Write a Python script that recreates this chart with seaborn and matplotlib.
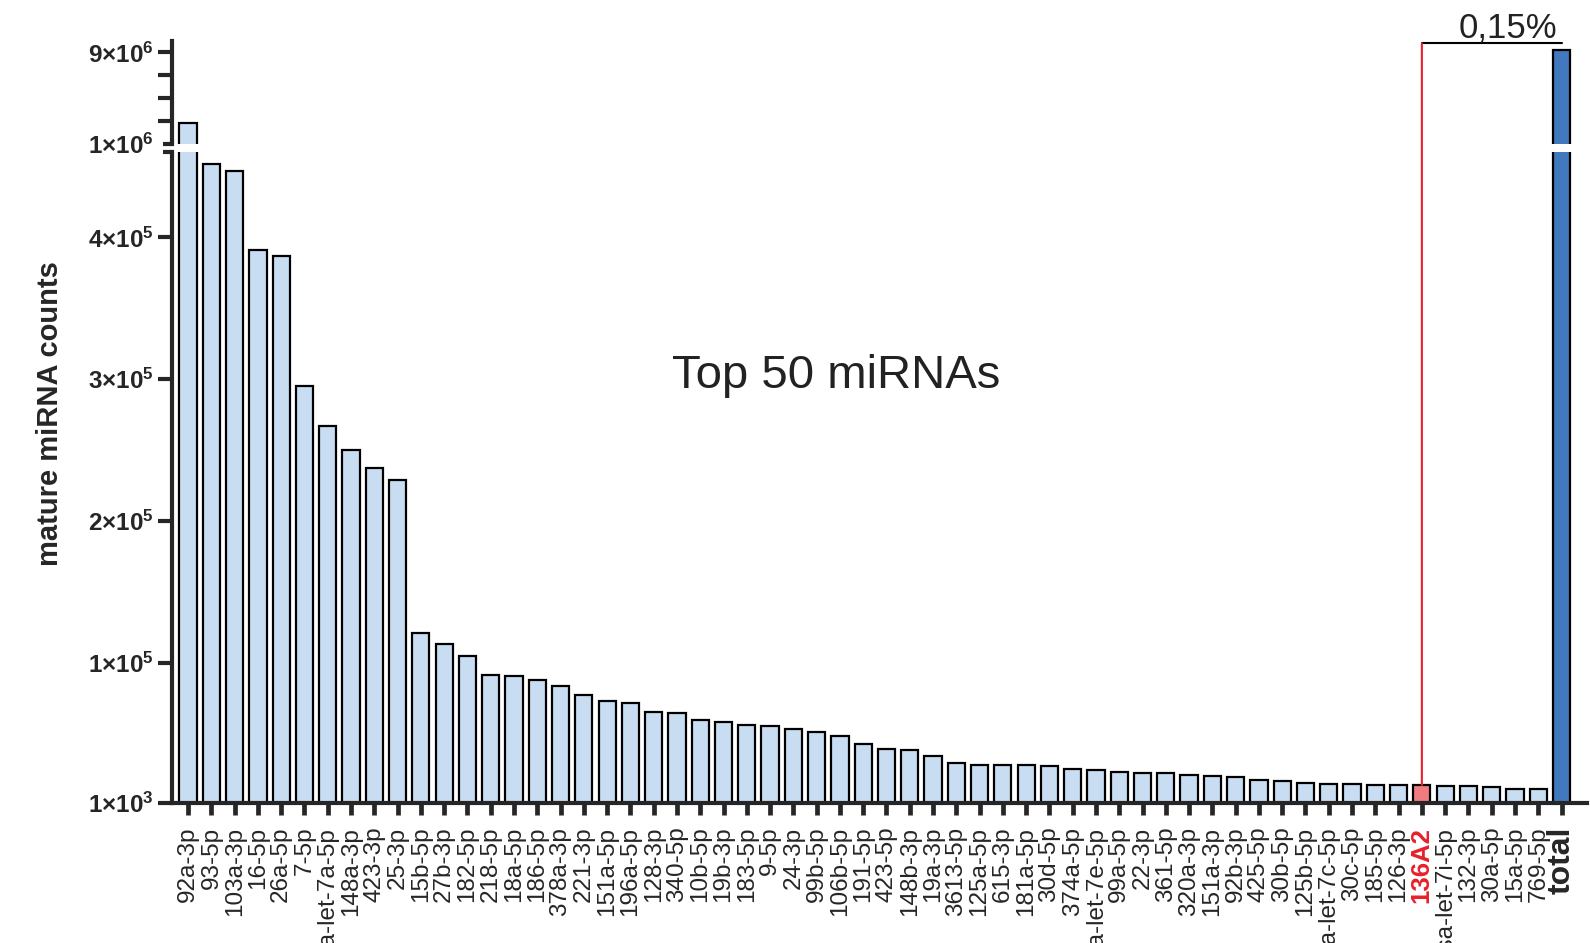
import numpy as np
import pandas as pd
import seaborn as sns
import matplotlib.pyplot as plt
from matplotlib.patches import ConnectionPatch
from matplotlib.ticker import FixedLocator, FixedFormatter

MIRNAS = [
    "92a-3p", "93-5p", "103a-3p", "16-5p", "26a-5p", "7-5p", "hsa-let-7a-5p",
    "148a-3p", "423-3p", "25-3p", "15b-5p", "27b-3p", "182-5p", "218-5p",
    "18a-5p", "186-5p", "378a-3p", "221-3p", "151a-5p", "196a-5p", "128-3p",
    "340-5p", "10b-5p", "19b-3p", "183-5p", "9-5p", "24-3p", "99b-5p",
    "106b-5p", "191-5p", "423-5p", "148b-3p", "19a-3p", "3613-5p", "125a-5p",
    "615-3p", "181a-5p", "30d-5p", "374a-5p", "hsa-let-7e-5p", "99a-5p",
    "22-3p", "361-5p", "320a-3p", "151a-3p", "92b-3p", "425-5p", "30b-5p",
    "125b-5p", "hsa-let-7c-5p", "30c-5p", "185-5p", "126-3p", "136A2",
    "hsa-let-7i-5p", "132-3p", "30a-5p", "15a-5p", "769-5p", "total",
]
COUNTS = [
    2.8e6, 452e3, 447e3, 391e3, 387e3, 295e3, 267e3,
    250e3, 237e3, 229e3, 120.6e3, 112.9e3, 104.6e3, 91.2e3,
    90.3e3, 87.7e3, 83.3e3, 76.9e3, 73.1e3, 71.3e3, 64.9e3,
    64.2e3, 59.7e3, 57.9e3, 56.0e3, 55.1e3, 53.2e3, 51.3e3,
    48.0e3, 42.6e3, 39.3e3, 38.4e3, 34.3e3, 29.0e3, 28.0e3,
    27.9e3, 27.6e3, 27.1e3, 24.8e3, 24.3e3, 23.1e3,
    22.4e3, 22.3e3, 20.7e3, 20.2e3, 19.1e3, 17.4e3, 16.5e3,
    15.1e3, 14.6e3, 14.6e3, 13.8e3, 13.7e3, 13.6e3,
    13.0e3, 12.8e3, 12.1e3, 10.9e3, 10.7e3, 9.25e6,
]
HIGHLIGHT = "136A2"
TOTAL = "total"

LOW_TICKS = [1e3, 1e5, 2e5, 3e5, 4e5]
LOW_LIM = (1e3, 4.6e5)
TOP_TICKS = [3e6, 5e6, 7e6, 9e6]
TOP_LABELLED = [9e6]
TOP_LIM = (1e6, 1e7)
BRACKET_Y = 9.8e6

LIGHT_BLUE = "#c8ddf1"
DARK_BLUE = "#4279be"
PINK = "#f07c80"
RED = "#e8202a"


def sci(v):
    exp = int(np.floor(np.log10(v)))
    mant = int(round(v / 10 ** exp))
    return r"$\mathbf{%d{\times}10^{%d}}$" % (mant, exp)


def main():
    sns.set_style("ticks")
    plt.rcParams['font.family'] = ['Liberation Sans', 'DejaVu Sans']
    plt.rcParams['mathtext.fontset'] = 'custom'
    plt.rcParams['mathtext.rm'] = 'Liberation Sans'
    plt.rcParams['mathtext.bf'] = 'Liberation Sans:bold'

    df = pd.DataFrame({'mirna': MIRNAS, 'count': COUNTS})
    palette = {m: LIGHT_BLUE for m in MIRNAS}
    palette[HIGHLIGHT] = PINK
    palette[TOTAL] = DARK_BLUE

    fig = plt.figure(figsize=(15.9, 9.43), dpi=100)
    ax_low = fig.add_axes([0.1082, 0.1485, 0.890, 0.690])
    ax_top = fig.add_axes([0.1082, 0.8473, 0.890, 0.1092])

    for ax in (ax_low, ax_top):
        sns.barplot(data=df, x='mirna', y='count', hue='mirna', order=MIRNAS,
                    palette=palette, legend=False, width=0.74, saturation=1,
                    edgecolor='black', linewidth=1.6, ax=ax)
        ax.set_xlim(-0.69, 60.1)
        ax.set_xlabel("")
        ax.set_ylabel("")
        for s in ['left', 'bottom']:
            ax.spines[s].set_linewidth(3)
        sns.despine(ax=ax)

    # lower segment
    ax_low.set_ylim(*LOW_LIM)
    ax_low.set_yticks(LOW_TICKS)
    ax_low.set_yticklabels([sci(v) for v in LOW_TICKS])
    ax_low.yaxis.set_minor_locator(FixedLocator([LOW_LIM[1]]))
    ax_low.tick_params(axis='y', which='major', length=10, width=3, pad=3, labelsize=17.5)
    ax_low.tick_params(axis='y', which='minor', length=6.5, width=3)
    ax_low.set_xticks(range(len(MIRNAS)))
    ax_low.set_xticklabels(MIRNAS, rotation=90)
    ax_low.tick_params(axis='x', length=8.6, width=3.4, pad=8.5, labelsize=17.5)
    for lab in ax_low.get_xticklabels():
        if lab.get_text() == HIGHLIGHT:
            lab.set_color(RED)
            lab.set_fontweight('bold')
            lab.set_fontsize(18.5)
        elif lab.get_text() == TOTAL:
            lab.set_fontweight('bold')
            lab.set_fontsize(23)

    ax_low.set_ylabel("mature miRNA counts", fontsize=21, fontweight='bold')
    ax_low.yaxis.set_label_coords(-0.076, 0.598)
    ax_low.text(0.469, 0.656, "Top 50 miRNAs", transform=ax_low.transAxes,
                ha='center', va='center', fontsize=34, color='#222222')

    # upper segment
    ax_top.set_ylim(*TOP_LIM)
    ax_top.set_yticks(TOP_TICKS)
    ax_top.set_yticklabels([sci(v) if v in TOP_LABELLED else "" for v in TOP_TICKS])
    ax_top.yaxis.set_minor_locator(FixedLocator([TOP_LIM[0]]))
    ax_top.yaxis.set_minor_formatter(FixedFormatter([sci(TOP_LIM[0])]))
    ax_top.tick_params(axis='y', which='major', length=10, width=3, pad=3, labelsize=17.5)
    ax_top.tick_params(axis='y', which='minor', length=6.5, width=3, pad=6.5, labelsize=17.5)
    ax_top.spines['bottom'].set_visible(False)
    ax_top.set_xticks([])
    ax_top.patch.set_visible(False)

    # bracket from 136A2 to total
    hi = MIRNAS.index(HIGHLIGHT)
    tot = MIRNAS.index(TOTAL)
    con = ConnectionPatch(xyA=(hi, COUNTS[hi]), coordsA=ax_low.transData,
                          xyB=(hi, BRACKET_Y), coordsB=ax_top.transData,
                          color=RED, lw=1.5)
    fig.add_artist(con)
    ax_top.plot([hi, tot], [BRACKET_Y, BRACKET_Y], color='black', lw=1.5, clip_on=False)
    pct = COUNTS[hi] / COUNTS[tot] * 100
    ax_top.annotate(f"{pct:.2f}%".replace('.', ','), xy=(tot, BRACKET_Y),
                    xytext=(-3, 4), textcoords='offset points', ha='right',
                    va='baseline', fontsize=25, color='#222222', annotation_clip=False)

    plt.savefig("out.png", dpi=100)


if __name__ == "__main__":
    main()
